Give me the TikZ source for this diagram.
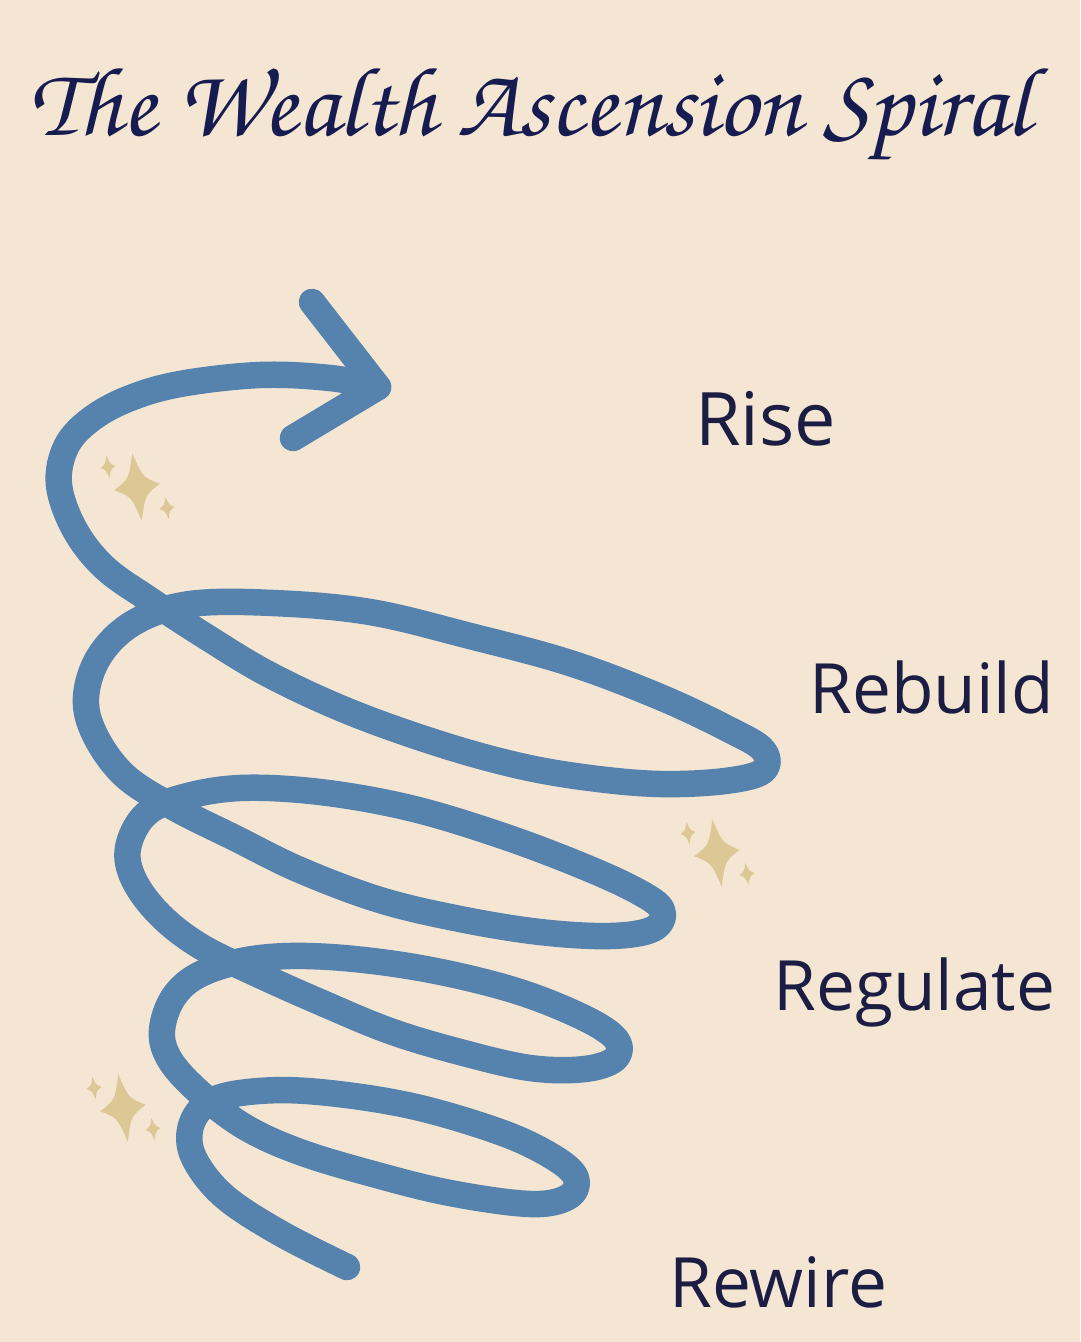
\documentclass[tikz,border=0pt]{standalone}
\usepackage{fontspec}
\usepackage{xcolor}
\usepackage{tikz}
\setmainfont{Open Sans}
\newfontfamily\titlehand{TeX Gyre Chorus}
\definecolor{paper}{HTML}{F5E6D4}
\definecolor{spiralblue}{HTML}{5583AE}
\definecolor{gold}{HTML}{DCC894}
\definecolor{ink}{HTML}{1B1D42}
\definecolor{titleink}{HTML}{161B50}

\begin{document}
\begin{tikzpicture}[x=0.02cm, y=-0.02cm,
    stage/.style={anchor=base west, inner sep=0pt, text=ink, font=\fontsize{39.5}{41}\selectfont},
    coil/.style={draw=spiralblue, line width=0.53cm, line cap=round, line join=round},
    sparkle/.pic={\fill[gold] (0,-34) .. controls (7,-9) .. (23,0) .. controls (7,9) .. (0,34)
        .. controls (-7,9) .. (-23,0) .. controls (-7,-9) .. cycle;}]
    \useasboundingbox (0,0) rectangle (1080,1342);
    \fill[paper] (0,0) rectangle (1080,1342);

    \node[anchor=base, inner sep=0pt, text=titleink, font=\titlehand\fontsize{56}{60}\selectfont] (title) at (530,135) {The Wealth Ascension Spiral};

    % the spiral, from its free end up to the arrow
    \draw[coil] plot[smooth, tension=0.6] coordinates {
        (347,1267) (280,1233) (225,1197) (195,1160) (190,1130) (205,1105) (240,1093)
        (307,1091) (407,1105) (500,1132) (553,1157) (576,1178) (568,1197) (530,1204)
        (450,1193) (373,1174) (300,1152) (245,1127) (200,1093) (170,1060) (162,1030)
        (175,995) (205,972) (260,958) (330,957) (420,968) (510,989) (578,1015)
        (615,1038) (616,1058) (585,1069) (530,1068) (460,1052) (390,1031) (320,1002)
        (255,973) (200,946) (160,915) (134,880) (128,848) (145,815) (180,798)
        (240,788) (320,792) (410,808) (500,835) (580,865) (637,891) (662,910)
        (653,929) (610,936) (540,932) (460,919) (380,900) (300,870) (235,838)
        (175,808) (125,776) (95,735) (86,697) (100,655) (135,622) (190,604)
        (273,603) (370,612) (470,636) (570,663) (660,697) (728,729) (763,750)
        (763,771) (725,781) (660,784) (590,778) (520,766) (440,744) (350,712)
        (270,675) (205,636) (150,600) (105,568) (75,530) (59,485) (66,447)
        (90,420) (128,399) (180,384) (260,375) (330,378) (378,387)};
    \draw[coil] (312,302) -- (378,387) -- (293,438);

    \foreach \sx/\sy in {137/487, 717/853, 123/1108} {
        \pic[rotate=8] at (\sx,\sy) {sparkle};
        \pic[rotate=8, scale=0.33] at (\sx-29,\sy-20) {sparkle};
        \pic[rotate=8, scale=0.33] at (\sx+30,\sy+21) {sparkle};
    }

    \node[stage, font=\fontsize{42}{44}\selectfont] (rise) at (695,445) {Rise};
    \node[stage] (rebuild) at (809,713) {Rebuild};
    \node[stage] (regulate) at (773,1010) {Regulate};
    \node[stage] (rewire) at (669,1307) {Rewire};
\end{tikzpicture}
\end{document}
